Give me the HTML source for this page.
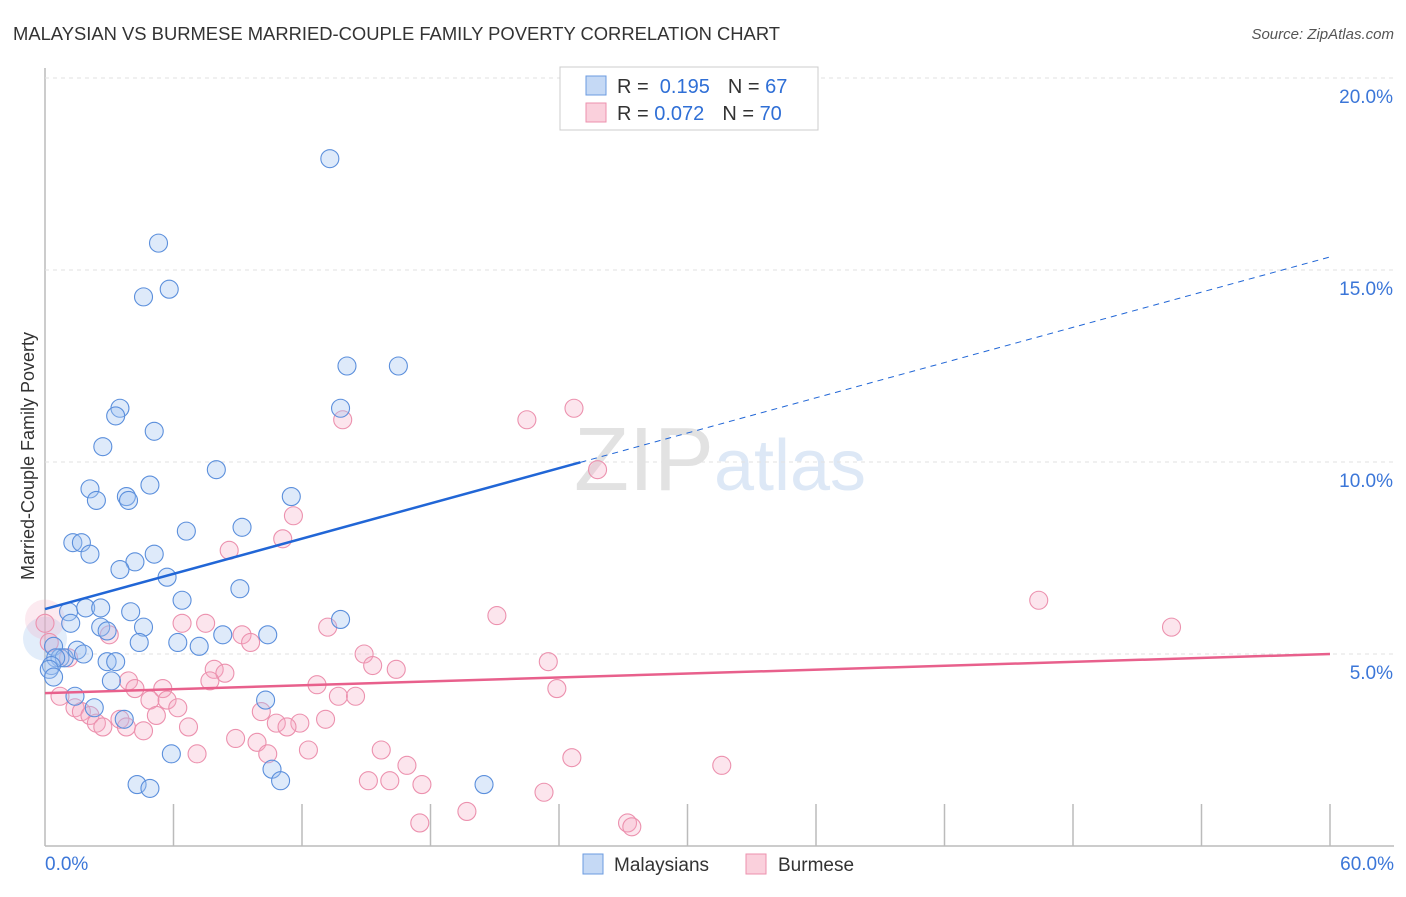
<!DOCTYPE html>
<html><head><meta charset="utf-8"><style>
body{margin:0;background:#fff;font-family:"Liberation Sans",sans-serif;}
svg text{font-family:"Liberation Sans",sans-serif;}
</style></head><body>
<svg id="chart" width="1406" height="892" xmlns="http://www.w3.org/2000/svg">
<text x="13" y="40" font-size="18.4" fill="#333" textLength="767">MALAYSIAN VS BURMESE MARRIED-COUPLE FAMILY POVERTY CORRELATION CHART</text>
<text x="1394" y="39" font-size="15" fill="#555" font-style="italic" text-anchor="end">Source: ZipAtlas.com</text>
<text x="34" y="456" font-size="18" fill="#333" transform="rotate(-90 34 456)" text-anchor="middle">Married-Couple Family Poverty</text>
<text x="720" y="490" font-size="90" fill="#e4e4e4" text-anchor="middle" font-family="Liberation Serif"><tspan fill="#e2e2e2">ZIP</tspan><tspan fill="#dde8f6" font-family="Liberation Sans" font-size="72">atlas</tspan></text>
<g id="grid"></g><g id="marks"></g>
<g>
<rect x="560" y="67" width="258" height="63" fill="#fff" stroke="#ccc"/>
<rect x="586" y="76" width="20" height="19" fill="#c5d9f5" stroke="#6b9be0"/>
<rect x="586" y="103" width="20" height="19" fill="#fad0dc" stroke="#ec91ae"/>
<text x="617" y="93" font-size="20" fill="#333">R = <tspan fill="#2f6fd6">&#160;0.195</tspan><tspan dx="18">N = </tspan><tspan fill="#2f6fd6">67</tspan></text>
<text x="617" y="120" font-size="20" fill="#333">R = <tspan fill="#2f6fd6">0.072</tspan><tspan dx="18">N = </tspan><tspan fill="#2f6fd6">70</tspan></text>
</g>
<g>
<rect x="583" y="854" width="20" height="20" fill="#c5d9f5" stroke="#6b9be0"/>
<text x="614" y="871" font-size="19" fill="#333">Malaysians</text>
<rect x="746" y="854" width="20" height="20" fill="#fad0dc" stroke="#ec91ae"/>
<text x="778" y="871" font-size="19" fill="#333">Burmese</text>
</g>
</svg>
<script>
const xTicks=[0,60];
const yTicks=[5,10,15,20];
const blueX=[13.3,5.3,4.6,5.8,14.1,16.5,13.8,3.5,3.3,5.1,2.7,8.0,2.1,3.8,3.9,4.9,2.4,11.5,9.2,6.6,1.3,1.7,2.1,5.1,4.2,3.5,5.7,9.1,6.4,1.1,1.9,2.6,4.0,1.2,13.8,2.6,2.9,4.6,8.3,10.4,4.4,6.2,7.2,0.4,0.7,0.9,1.5,1.8,0.5,0.3,0.2,2.9,3.3,0.4,3.1,1.4,2.3,10.3,3.7,5.9,10.6,11.0,4.3,4.9,20.5];
const blueY=[17.9,15.7,14.3,14.5,12.5,12.5,11.4,11.4,11.2,10.8,10.4,9.8,9.3,9.1,9.0,9.4,9.0,9.1,8.3,8.2,7.9,7.9,7.6,7.6,7.4,7.2,7.0,6.7,6.4,6.1,6.2,6.2,6.1,5.8,5.9,5.7,5.6,5.7,5.5,5.5,5.3,5.3,5.2,5.2,4.9,4.9,5.1,5.0,4.9,4.7,4.6,4.8,4.8,4.4,4.3,3.9,3.6,3.8,3.3,2.4,2.0,1.7,1.6,1.5,1.6];
const pinkX=[24.7,22.5,13.9,25.8,11.6,8.6,11.1,21.1,46.4,52.6,7.5,6.4,9.2,3.0,13.2,14.9,9.6,15.3,23.5,16.4,7.9,8.4,7.7,0.0,0.2,1.1,0.7,3.9,4.2,5.5,4.9,5.7,6.2,12.7,13.7,14.5,23.9,1.4,1.7,2.1,5.2,10.1,2.4,2.7,3.5,3.8,4.6,10.8,11.9,13.1,6.7,8.9,9.9,11.3,12.3,15.7,10.4,7.1,16.9,24.6,31.6,15.1,16.1,17.6,23.3,19.7,17.5,27.2,27.4];
const pinkY=[11.4,11.1,11.1,9.8,8.6,7.7,8.0,6.0,6.4,5.7,5.8,5.8,5.5,5.5,5.7,5.0,5.3,4.7,4.8,4.6,4.6,4.5,4.3,5.8,5.3,4.9,3.9,4.3,4.1,4.1,3.8,3.8,3.6,4.2,3.9,3.9,4.1,3.6,3.5,3.4,3.4,3.5,3.2,3.1,3.3,3.1,3.0,3.2,3.2,3.3,3.1,2.8,2.7,3.1,2.5,2.5,2.4,2.4,2.1,2.3,2.1,1.7,1.7,1.6,1.4,0.9,0.6,0.6,0.5];
const blueTrend=[6.17,15.34];
const pinkTrend=[3.98,5.0];
const X=v=>45+v/60*1285, Y=v=>846-v*38.4;
const NS='http://www.w3.org/2000/svg';
function mk(t,a,p){const e=document.createElementNS(NS,t);for(const k in a)e.setAttribute(k,a[k]);p.appendChild(e);return e;}
const g=document.getElementById('grid'), m=document.getElementById('marks');
let ax=mk('line',{x1:45,y1:68,x2:45,y2:846,stroke:'#bbb','stroke-width':1.5},g);


let bx=mk('line',{x1:45,y1:846,x2:1394,y2:846,stroke:'#bbb','stroke-width':1.5},g);


yTicks.forEach(v=>{
 const l=mk('line',{x1:45,x2:1394,y1:Y(v),y2:Y(v),stroke:'#e2e2e2','stroke-dasharray':'4 4'},g);
 
 
 const t=mk('text',{x:1393,y:Y(v)+25,'font-size':19,fill:'#3b76d8','text-anchor':'end'},g);
 t.textContent=v.toFixed(1)+'%';
 
 
});
for(let i=1;i<=10;i++){const l=mk('line',{x1:45+i*128.5,x2:45+i*128.5,y1:804,y2:846,stroke:'#bbb','stroke-width':1.5},g);
 
 }
xTicks.forEach((v,i)=>{const t=mk('text',{x:i?1394:45,y:870,'font-size':19,fill:'#3b76d8','text-anchor':i?'end':'start'},g);
 t.textContent=v.toFixed(1)+'%';
 
 });
mk('circle',{cx:45,cy:Y(5.4),r:22,fill:'rgba(160,195,240,0.3)'},m);
mk('circle',{cx:45,cy:Y(5.9),r:20,fill:'rgba(245,170,195,0.25)'},m);
pinkX.forEach((v,i)=>{const c=mk('circle',{cx:X(v),cy:Y(pinkY[i]),r:9,fill:'rgba(245,170,195,0.3)',stroke:'#ec91ae','stroke-width':1.1},m);
 
 });
blueX.forEach((v,i)=>{const c=mk('circle',{cx:X(v),cy:Y(blueY[i]),r:9,fill:'rgba(160,195,240,0.35)',stroke:'#5b8fdc','stroke-width':1.1},m);
 
 });
const bAt=x=>blueTrend[0]+(blueTrend[1]-blueTrend[0])*x/60;
let l1=mk('line',{x1:X(0),y1:Y(bAt(0)),x2:X(25),y2:Y(bAt(25)),stroke:'#2166d6','stroke-width':2.5},m);


let l2=mk('line',{x1:X(25),y1:Y(bAt(25)),x2:X(60),y2:Y(bAt(60)),stroke:'#2166d6','stroke-width':1,'stroke-dasharray':'6 5'},m);


let l3=mk('line',{x1:X(0),y1:Y(pinkTrend[0]),x2:X(60),y2:Y(pinkTrend[1]),stroke:'#e8608c','stroke-width':2.5},m);


</script>
</body></html>
